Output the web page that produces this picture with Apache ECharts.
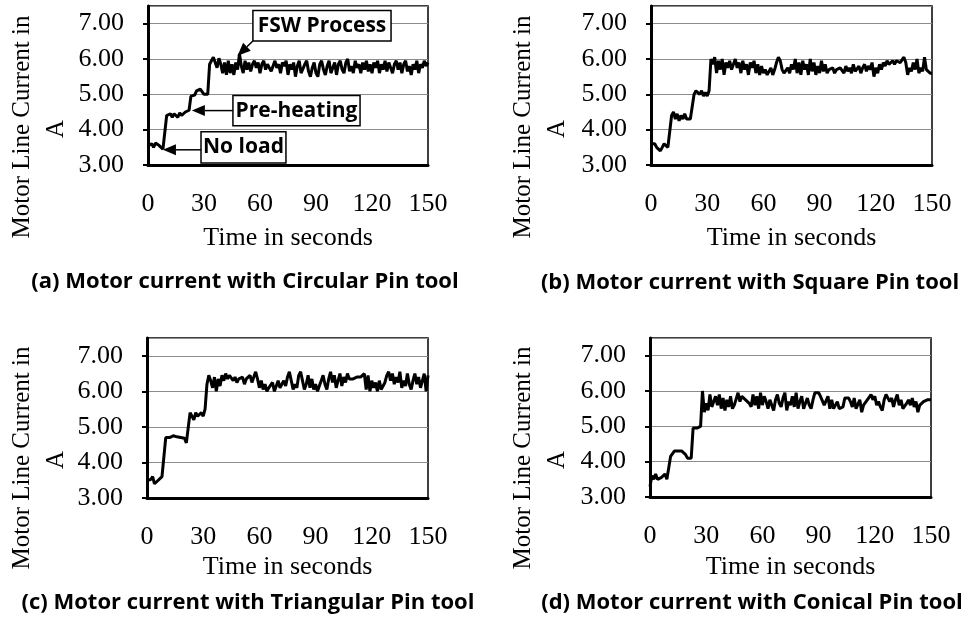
<!DOCTYPE html>
<html>
<head>
<meta charset="utf-8">
<script src="https://cdn.jsdelivr.net/npm/echarts@6/dist/echarts.min.js"></script>
<style>
  html, body { margin: 0; padding: 0; background: #fff; }
  #chart { width: 966px; height: 619px; }
</style>
</head>
<body>
<div id="chart"></div>
<script>
// motor line current (A), one reading per second, 0..150 s
const circularPin = [
  3.55, 3.5, 3.6, 3.5, 3.62, 3.65, 3.55, 3.5, 3.45, 3.48,
  4.4, 4.38, 4.45, 4.35, 4.45, 4.42, 4.35, 4.48, 4.4, 4.45, 4.5, 4.45, 4.55,
  4.95, 5.0, 4.98, 5.1, 5.05, 5.15, 5.1, 5.0, 5.02, 5.0,
  5.85, 5.95, 6.05, 5.9, 5.75, 6.02, 5.85, 5.6, 5.9, 5.55,
  5.95, 5.6, 5.85, 5.55, 5.9, 5.7, 6.15, 5.8, 5.6, 5.95,
  5.7, 5.9, 5.65, 5.85, 5.95, 5.75, 5.9, 5.6, 5.85, 5.95,
  5.7, 5.85, 5.9, 5.65, 5.8, 5.95, 5.75, 5.85, 5.6, 5.9,
  5.8, 5.95, 5.55, 5.85, 5.7, 5.9, 5.5, 5.8, 5.95, 5.6,
  5.55, 5.85, 5.95, 5.65, 5.5, 5.75, 5.9, 5.6, 5.5, 5.85,
  5.95, 5.7, 5.55, 5.8, 5.95, 5.6, 5.75, 5.9, 5.55, 5.85,
  5.95, 5.7, 5.6, 5.9, 6.0, 5.65, 5.8, 5.6, 5.95, 5.75,
  5.85, 5.6, 5.9, 5.7, 5.95, 5.65, 5.85, 5.6, 5.9, 5.75,
  5.95, 5.6, 5.85, 5.7, 5.95, 5.65, 5.9, 5.75, 5.6, 5.85,
  5.95, 5.7, 5.9, 5.6, 5.85, 5.95, 5.65, 5.8, 5.55, 5.85,
  5.7, 5.95, 5.6, 5.85, 5.75, 5.95, 5.8, 5.9
];
const squarePin = [
  3.6, 3.58, 3.6, 3.5, 3.55, 3.4, 3.5, 3.6, 3.55, 3.5, 3.5,
  4.4, 4.5, 4.3, 4.45, 4.25, 4.4, 4.3, 4.45, 4.3, 4.35, 4.3, 4.35,
  5.0, 5.1, 5.15, 5.0, 5.1, 4.95, 5.05, 4.95, 5.1,
  6.0, 5.85, 6.05, 5.6, 5.95, 5.7, 6.0, 5.55, 5.9, 5.75,
  5.95, 5.7, 5.85, 6.0, 5.75, 5.9, 5.6, 5.95, 5.7, 5.85,
  5.55, 5.9, 5.75, 5.95, 5.6, 5.85, 5.55, 5.8, 5.6, 5.7,
  5.55, 5.6, 5.75, 5.55, 5.7, 5.9, 6.05, 5.95, 5.7, 5.6,
  5.55, 5.75, 5.6, 5.85, 5.7, 6.0, 5.6, 5.9, 5.55, 5.95,
  5.7, 5.85, 5.55, 6.0, 5.65, 5.9, 5.55, 5.8, 5.6, 5.95,
  5.65, 5.85, 5.6, 5.7, 5.65, 5.75, 5.6, 5.7, 5.65, 5.75,
  5.7, 5.6, 5.8, 5.65, 5.75, 5.6, 5.85, 5.65, 5.7, 5.8,
  5.6, 5.75, 5.85, 5.65, 5.8, 5.7, 5.9, 5.5, 5.75, 5.6,
  5.85, 5.7, 5.9, 5.8, 5.95, 5.85, 5.9, 5.95, 5.85, 5.95,
  6.0, 5.9, 5.95, 6.05, 5.9, 5.55, 5.75, 5.65, 5.9, 5.7,
  6.0, 5.6, 5.75, 5.65, 6.05, 5.7, 5.65, 5.6, 5.6
];
const triangularPin = [
  3.5, 3.48, 3.52, 3.6, 3.4, 3.45, 3.5, 3.55, 3.6, 3.65,
  4.7, 4.75, 4.7, 4.72, 4.75, 4.7, 4.72, 4.75, 4.7, 4.65, 4.68, 4.55, 4.5,
  5.4, 5.35, 5.2, 5.4, 5.3, 5.35, 5.4, 5.3, 5.5,
  6.2, 6.45, 6.3, 6.1, 6.4, 6.0, 6.35, 6.15, 6.45, 6.3,
  6.5, 6.35, 6.45, 6.5, 6.3, 6.4, 6.25, 6.35, 6.3, 6.4,
  6.2, 6.35, 6.3, 6.45, 6.25, 6.4, 6.55, 6.35, 6.1, 6.3,
  6.05, 6.2, 6.0, 6.1, 6.05, 6.25, 6.0, 6.15, 6.3, 6.1,
  6.2, 6.3, 6.15, 6.4, 6.55, 6.3, 6.05, 6.2, 6.1, 6.45,
  6.55, 6.3, 6.05, 6.2, 6.45, 6.1, 6.35, 6.05, 6.2, 6.0,
  6.15, 6.3, 6.45, 6.2, 6.05, 6.35, 6.55, 6.25, 6.45, 6.1,
  6.3, 6.5, 6.15, 6.4, 6.25, 6.5, 6.35, 6.4, 6.35, 6.4,
  6.4, 6.38, 6.4, 6.35, 6.5, 6.05, 6.45, 6.0, 6.3, 6.1,
  6.25, 6.0, 6.3, 6.05, 6.0, 6.25, 6.45, 6.55, 6.3, 6.5,
  6.2, 6.4, 6.25, 6.55, 6.1, 6.3, 6.15, 6.5, 6.2, 6.05,
  6.3, 6.5, 6.2, 6.4, 6.1, 6.3, 6.5, 6.0, 6.45
];
const conicalPin = [
  3.3, 3.6, 3.5, 3.65, 3.5, 3.5, 3.55, 3.5, 3.65, 3.5, 3.55,
  4.15, 4.2, 4.3, 4.35, 4.3, 4.25, 4.3, 4.3, 4.2, 4.1, 4.15, 4.1,
  4.95, 4.9, 4.95, 4.95, 5.0,
  6.0, 5.4, 5.65, 5.45, 5.9, 5.55, 5.5, 5.85, 5.6, 5.9,
  5.5, 5.8, 5.45, 5.75, 5.55, 5.85, 5.5, 5.6, 5.55, 5.95,
  5.7, 5.85, 5.8, 5.75, 5.7, 5.65, 5.55, 5.9, 5.6, 5.85,
  5.5, 5.95, 5.6, 5.85, 5.7, 5.5, 5.75, 5.6, 5.45, 5.75,
  5.9, 5.65, 5.55, 5.8, 5.95, 5.45, 5.7, 5.6, 5.85, 5.55,
  5.95, 5.5, 5.7, 5.85, 5.5, 5.65, 5.8, 5.6, 5.5, 5.75,
  5.95, 5.9, 5.95, 5.85, 5.9, 5.6, 5.55, 5.85, 5.5, 5.75,
  5.5, 5.45, 5.7, 5.5, 5.5, 5.55, 5.8, 5.75, 5.8, 5.7,
  5.55, 5.8, 5.5, 5.45, 5.75, 5.4, 5.6, 5.55, 5.75, 5.8,
  5.9, 5.75, 5.85, 5.6, 5.7, 5.55, 5.45, 5.75, 5.9, 5.85,
  5.7, 5.8, 5.55, 5.75, 5.9, 5.6, 5.75, 5.5, 5.45, 5.65,
  5.75, 5.6, 5.8, 5.55, 5.7, 5.4, 5.6, 5.55, 5.7, 5.65, 5.75, 5.75, 5.75
];
const captions = [
  '(a) Motor current with Circular Pin tool',
  '(b) Motor current with Square Pin tool',
  '(c) Motor current with Triangular Pin tool',
  '(d) Motor current with Conical Pin tool'
];
const xTicks = [0, 30, 60, 90, 120, 150];
const yTicks = [3, 4, 5, 6, 7];
// callouts on panel (a): box corners and arrow tip in data units
const callouts = [
  { text: 'FSW Process', box: [56.2, 7.37, 130.2, 6.51], from: [56.2, 6.51], tip: [48, 6.09] },
  { text: 'Pre-heating', box: [45.5, 4.97, 113.6, 4.11], from: [45.5, 4.54], tip: [23.5, 4.54] },
  { text: 'No load', box: [28.4, 3.94, 73.9, 3.06], from: [28.4, 3.43], tip: [8, 3.43] }
];

const allSeries = [circularPin, squarePin, triangularPin, conicalPin];
const serif = '"Liberation Serif", "Times New Roman", serif';
const sans = '"Open Sans", Lato, sans-serif';

const grids = [
  { left: 148, top: 6, width: 280, height: 159 },
  { left: 651, top: 6, width: 281, height: 159 },
  { left: 147, top: 338, width: 281, height: 160 },
  { left: 650, top: 338, width: 281, height: 159 }
];
const nameGaps = [60, 60, 56, 57];
const captionY = [282, 283, 603, 603];
const captionX = [245, 750, 248, 752];

const chart = echarts.init(document.getElementById('chart'));

const option = {
  backgroundColor: '#fff',
  animation: false,
  grid: grids.map(g => Object.assign({ show: true, borderColor: '#000', borderWidth: 1.5 }, g)),
  xAxis: grids.map((g, i) => ({
    type: 'value',
    gridIndex: i,
    min: xTicks[0],
    max: xTicks[xTicks.length - 1],
    interval: 30,
    name: 'Time in seconds',
    nameLocation: 'middle',
    nameGap: nameGaps[i],
    nameTextStyle: { fontFamily: serif, fontSize: 26, color: '#000' },
    axisLine: { lineStyle: { color: '#000', width: 3 } },
    axisTick: { show: false },
    axisLabel: { fontFamily: serif, fontSize: 26, color: '#000', margin: 26 },
    splitLine: { show: false }
  })),
  yAxis: grids.map((g, i) => ({
    type: 'value',
    gridIndex: i,
    min: yTicks[0],
    max: 7.5,
    interval: 1,
    axisLine: { show: true, lineStyle: { color: '#000', width: 3 } },
    axisTick: { show: true, length: 5, lineStyle: { color: '#000', width: 2 } },
    axisLabel: {
      fontFamily: serif, fontSize: 26, color: '#000', margin: 24,
      showMaxLabel: false,
      formatter: v => (yTicks.indexOf(v) >= 0 ? v.toFixed(2) : '')
    },
    splitLine: { show: true, lineStyle: { color: '#8c8c8c', width: 1 } }
  })),
  series: allSeries.map((arr, i) => ({
    type: 'line',
    xAxisIndex: i,
    yAxisIndex: i,
    showSymbol: false,
    lineStyle: { color: '#000', width: 3 },
    data: arr.map((v, t) => [t, v])
  }))
};
chart.setOption(option);

// axis titles, captions, callouts
const graphics = [];
grids.forEach((g, i) => {
  const midY = i < 2 ? 127 : 458;
  const xA = i % 2 === 0 ? 22 : 523;
  graphics.push({
    type: 'text', x: xA, y: midY, rotation: Math.PI / 2,
    style: { text: 'Motor Line Current in', font: '25px ' + serif, fill: '#000', align: 'center', verticalAlign: 'middle' }
  });
  graphics.push({
    type: 'text', x: xA + 34, y: midY + 2, rotation: Math.PI / 2,
    style: { text: 'A', font: '25px ' + serif, fill: '#000', align: 'center', verticalAlign: 'middle' }
  });
  graphics.push({
    type: 'text', x: captionX[i], y: captionY[i],
    style: { text: captions[i], font: 'bold 22px ' + sans, fill: '#000', align: 'center', verticalAlign: 'middle' }
  });
});

callouts.forEach(c => {
  const p1 = chart.convertToPixel({ gridIndex: 0 }, [c.box[0], c.box[1]]);
  const p2 = chart.convertToPixel({ gridIndex: 0 }, [c.box[2], c.box[3]]);
  const a = chart.convertToPixel({ gridIndex: 0 }, c.from);
  const b = chart.convertToPixel({ gridIndex: 0 }, c.tip);
  const ang = Math.atan2(b[1] - a[1], b[0] - a[0]);
  const len = 13, hw = 5.5;
  const base = [b[0] - len * Math.cos(ang), b[1] - len * Math.sin(ang)];
  const nx = -Math.sin(ang), ny = Math.cos(ang);
  graphics.push({
    type: 'line', z: 100,
    shape: { x1: a[0], y1: a[1], x2: base[0], y2: base[1] },
    style: { stroke: '#000', lineWidth: 1.5 }
  });
  graphics.push({
    type: 'polygon', z: 100,
    shape: { points: [b, [base[0] + nx * hw, base[1] + ny * hw], [base[0] - nx * hw, base[1] - ny * hw]] },
    style: { fill: '#000' }
  });
  graphics.push({
    type: 'rect', z: 100,
    shape: { x: p1[0], y: p1[1], width: p2[0] - p1[0], height: p2[1] - p1[1] },
    style: { fill: '#fff', stroke: '#000', lineWidth: 1.5 }
  });
  graphics.push({
    type: 'text', z: 101,
    x: (p1[0] + p2[0]) / 2, y: (p1[1] + p2[1]) / 2,
    style: { text: c.text, font: 'bold 21px ' + sans, fill: '#000', align: 'center', verticalAlign: 'middle' }
  });
});

chart.setOption({ graphic: graphics });
window.addEventListener('resize', () => chart.resize());
</script>
</body>
</html>
